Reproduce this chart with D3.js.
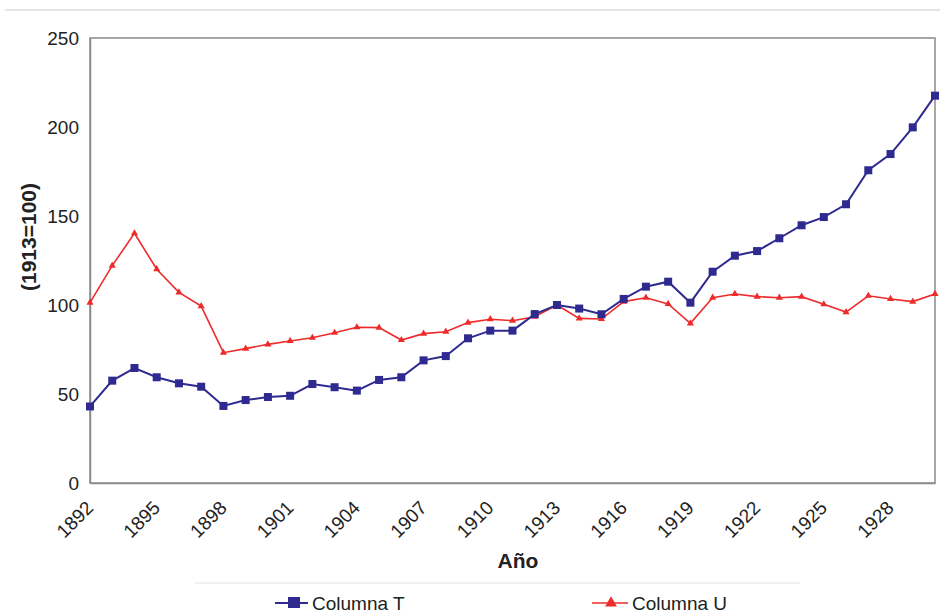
<!DOCTYPE html>
<html>
<head>
  <meta charset="utf-8">
  <style>
    body { margin: 0; background: #fff; }
    text { font-family: "Liberation Sans", Arial, sans-serif; fill: #222; }
    .tick text { font-size: 19px; }
    .axis-title { font-size: 21px; font-weight: bold; }
    .legend-text { font-size: 19px; }
  </style>
  <script src="https://d3js.org/d3.v7.min.js"></script>
</head>
<body>
<div id="chart"></div>
<script>
  var years = d3.range(1892, 1931);
  var xTickYears = [1892, 1895, 1898, 1901, 1904, 1907, 1910, 1913, 1916, 1919, 1922, 1925, 1928];
  var yTicks = [0, 50, 100, 150, 200, 250];

  var columnaT = [43, 57.5, 64.6, 59.4, 56, 54.1, 43.3, 46.6, 48.3, 49, 55.6, 53.8, 51.9, 57.9, 59.4,
    68.9, 71.3, 81.3, 85.6, 85.6, 94.9, 100, 98, 94.8, 103.4, 110.3, 113.1, 101.3, 118.7, 127.7,
    130.3, 137.5, 144.8, 149.4, 156.6, 175.7, 184.8, 199.8, 217.6];
  var columnaU = [101.3, 122.1, 140.3, 120.1, 107.1, 99.4, 73.2, 75.5, 77.9, 79.8, 81.6, 84.4, 87.5,
    87.3, 80.3, 83.9, 85, 90.1, 92, 91.2, 93.4, 100, 92.5, 92.1, 101.9, 104.1, 100.6, 89.7, 104.1,
    106.2, 104.7, 104.1, 104.7, 100.4, 96, 105.2, 103.4, 101.9, 106.2];

  var width = 940, height = 616;
  var margin = { top: 38, right: 5, bottom: 133, left: 90 };
  var w = width - margin.left - margin.right;
  var h = height - margin.top - margin.bottom;

  var svg = d3.select("#chart").append("svg")
    .attr("width", width)
    .attr("height", height);

  // faint outer frame line at the top
  svg.append("line")
    .attr("x1", 5).attr("x2", 940).attr("y1", 10).attr("y2", 10)
    .attr("stroke", "#ccc");

  var g = svg.append("g")
    .attr("transform", "translate(" + margin.left + "," + margin.top + ")");

  var x = d3.scalePoint().domain(years).range([0, w]);
  var y = d3.scaleLinear().domain([0, 250]).range([h, 0]);

  // plot frame
  g.append("rect")
    .attr("width", w).attr("height", h)
    .attr("fill", "none").attr("stroke", "#8a8a8a").attr("stroke-width", 1.5);

  var xAxis = g.append("g")
    .attr("transform", "translate(0," + h + ")")
    .call(d3.axisBottom(x).tickValues(xTickYears).tickSize(0));
  xAxis.select(".domain").attr("stroke", "#8a8a8a").attr("stroke-width", 1.5);
  xAxis.selectAll(".tick text")
    .attr("x", 0).attr("y", 0).attr("dy", 0)
    .attr("text-anchor", "end")
    .attr("transform", "translate(4,26) rotate(-45)");

  var yAxis = g.append("g")
    .call(d3.axisLeft(y).tickValues(yTicks).tickSize(0).tickPadding(11));
  yAxis.select(".domain").attr("stroke", "#8a8a8a").attr("stroke-width", 1.5);

  var blue = "#2f2a8f", red = "#ee2b2b";

  var line = d3.line()
    .x(function (d, i) { return x(years[i]); })
    .y(function (d) { return y(d); });

  g.append("path").datum(columnaU)
    .attr("d", line).attr("fill", "none").attr("stroke", red).attr("stroke-width", 1.6);
  g.append("path").datum(columnaT)
    .attr("d", line).attr("fill", "none").attr("stroke", blue).attr("stroke-width", 2);

  var tri = d3.symbol().type(d3.symbolTriangle).size(22);
  g.selectAll(".ptU").data(columnaU).enter().append("path")
    .attr("class", "ptU")
    .attr("d", tri)
    .attr("fill", red)
    .attr("transform", function (d, i) { return "translate(" + x(years[i]) + "," + y(d) + ")"; });

  g.selectAll(".ptT").data(columnaT).enter().append("rect")
    .attr("class", "ptT")
    .attr("x", function (d, i) { return x(years[i]) - 4; })
    .attr("y", function (d) { return y(d) - 4; })
    .attr("width", 8).attr("height", 8)
    .attr("fill", blue);

  // axis titles
  svg.append("text")
    .attr("class", "axis-title")
    .attr("x", 518).attr("y", 568)
    .attr("text-anchor", "middle")
    .text("Año");

  svg.append("text")
    .attr("class", "axis-title")
    .attr("transform", "translate(36,237) rotate(-90)")
    .attr("text-anchor", "middle")
    .text("(1913=100)");

  // legend
  svg.append("line")
    .attr("x1", 195).attr("x2", 800).attr("y1", 583).attr("y2", 583)
    .attr("stroke", "#e4e4e4");

  var legend = svg.append("g");
  legend.append("line").attr("x1", 275).attr("x2", 308).attr("y1", 603).attr("y2", 603)
    .attr("stroke", blue).attr("stroke-width", 2);
  legend.append("rect").attr("x", 288).attr("y", 597).attr("width", 12).attr("height", 11)
    .attr("fill", blue);
  legend.append("text").attr("class", "legend-text").attr("x", 312).attr("y", 610)
    .text("Columna T");

  legend.append("line").attr("x1", 592).attr("x2", 628).attr("y1", 603).attr("y2", 603)
    .attr("stroke", red).attr("stroke-width", 1.6);
  legend.append("path").attr("d", d3.symbol().type(d3.symbolTriangle).size(60))
    .attr("transform", "translate(611,603)").attr("fill", red);
  legend.append("text").attr("class", "legend-text").attr("x", 632).attr("y", 610)
    .text("Columna U");
</script>
</body>
</html>
